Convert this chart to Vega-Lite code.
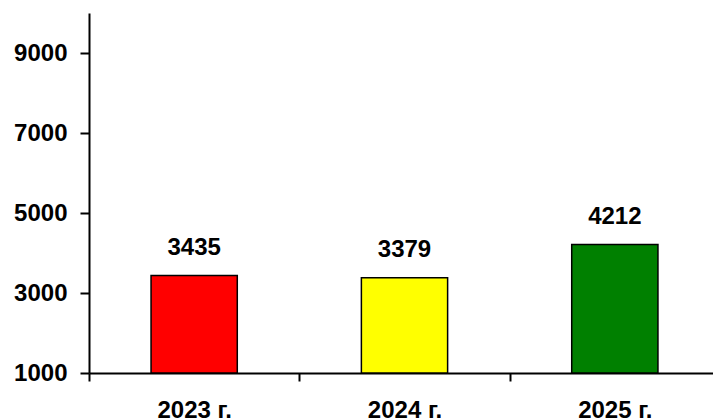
{
  "$schema": "https://vega.github.io/schema/vega-lite/v6.json",
  "width": 624,
  "height": 360,
  "autosize": "none",
  "padding": {"left": 89, "top": 13, "right": 0, "bottom": 45},
  "background": "white",
  "config": {"view": {"stroke": null}, "font": "Liberation Sans"},
  "data": {"values": [
    {"year": "2023 г.", "value": 3435, "color": "#FF0000"},
    {"year": "2024 г.", "value": 3379, "color": "#FFFF00"},
    {"year": "2025 г.", "value": 4212, "color": "#008000"}
  ]},
  "encoding": {
    "x": {"field": "year", "type": "nominal", "sort": null,
      "scale": {"range": [0, 631], "paddingInner": 0, "paddingOuter": 0},
      "axis": {"title": null, "labelAngle": 0, "labelFont": "Liberation Sans", "labelFontSize": 24, "labelFontWeight": "bold", "labelColor": "black",
        "labelPadding": 17, "tickBand": "extent", "ticks": true, "tickSize": 8, "tickColor": "black", "tickWidth": 2,
        "domainColor": "black", "domainWidth": 2, "grid": false}},
    "y": {"field": "value", "type": "quantitative",
      "scale": {"domain": [1000, 10000], "nice": false, "zero": false},
      "axis": {"title": null, "values": [1000, 3000, 5000, 7000, 9000], "format": "d", "labelFont": "Liberation Sans", "labelFontSize": 24, "labelFontWeight": "bold", "labelColor": "black",
        "labelPadding": 13, "tickSize": 9, "tickColor": "black", "tickWidth": 2, "domainColor": "black", "domainWidth": 2, "grid": false}}
  },
  "layer": [
    {"mark": {"type": "bar", "stroke": "black", "strokeWidth": 1.5, "width": {"band": 0.41}},
      "encoding": {"y2": {"datum": 1000}, "color": {"field": "color", "type": "nominal", "scale": null}}},
    {"mark": {"type": "text", "dy": -28, "fontSize": 24, "fontWeight": "bold", "font": "Liberation Sans", "color": "black"},
      "encoding": {"text": {"field": "value", "type": "quantitative", "format": "d"}}}
  ]
}
